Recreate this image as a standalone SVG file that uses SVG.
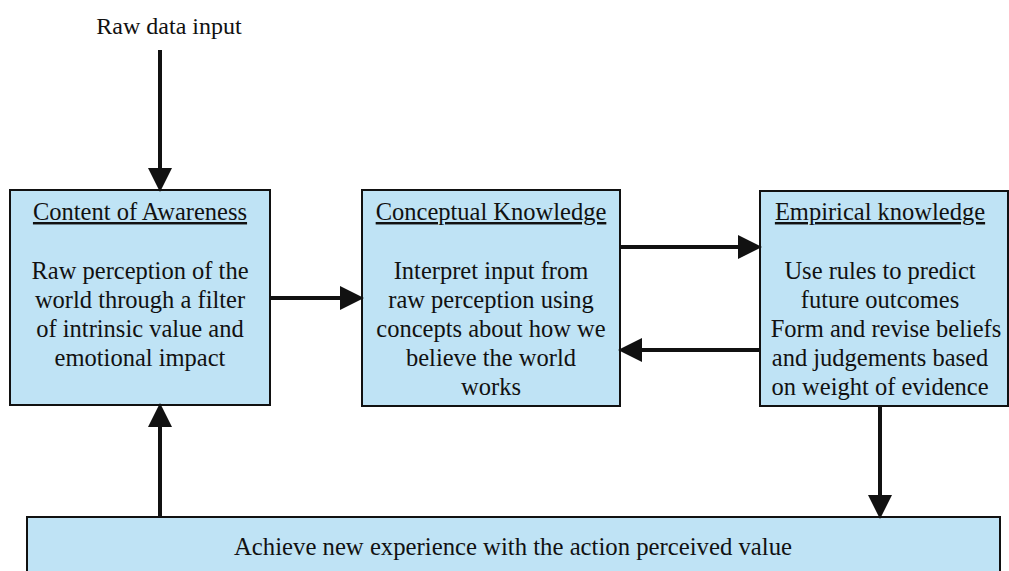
<svg xmlns="http://www.w3.org/2000/svg" width="1009" height="571" viewBox="0 0 1009 571">
<style>
.box{fill:#bfe3f5;stroke:#111;stroke-width:2}
text{font-family:"Liberation Serif","Times New Roman",serif;fill:#111;font-size:24.5px;text-anchor:middle}
.t{text-decoration:underline}
.c{stroke:#111;stroke-width:4;fill:none}
</style>
<defs>
<marker id="ah" markerWidth="6" markerHeight="6" refX="5" refY="3" orient="auto" markerUnits="strokeWidth">
<path d="M0,0 L6,3 L0,6 Z" fill="#111"/>
</marker>
</defs>
<rect width="1009" height="571" fill="#fff"/>
<g id="input-label"><text x="169" y="34" style="font-size:24px">Raw data input</text></g>
<g id="awareness">
<rect class="box" x="10" y="190" width="260" height="215"/>
<text class="t" x="140" y="220">Content of Awareness</text>
<text x="140" y="279">Raw perception of the</text>
<text x="140" y="308">world through a filter</text>
<text x="140" y="337">of intrinsic value and</text>
<text x="140" y="366">emotional impact</text>
</g>
<g id="conceptual">
<rect class="box" x="362" y="190" width="258" height="216"/>
<text class="t" x="491" y="220">Conceptual Knowledge</text>
<text x="491" y="279">Interpret input from</text>
<text x="491" y="308">raw perception using</text>
<text x="491" y="337">concepts about how we</text>
<text x="491" y="366">believe the world</text>
<text x="491" y="395">works</text>
</g>
<g id="empirical">
<rect class="box" x="760" y="191" width="248" height="215"/>
<text class="t" x="880" y="220">Empirical knowledge</text>
<text x="880" y="279">Use rules to predict</text>
<text x="880" y="308">future outcomes</text>
<text x="886" y="337">Form and revise beliefs</text>
<text x="880" y="366">and judgements based</text>
<text x="880" y="395">on weight of evidence</text>
</g>
<g id="experience">
<rect class="box" x="27" y="517" width="973" height="80"/>
<text x="513" y="555" textLength="558" lengthAdjust="spacingAndGlyphs" style="font-size:26px">Achieve new experience with the action perceived value</text>
</g>
<g id="connectors">
<line class="c" x1="160" y1="50" x2="160" y2="188" marker-end="url(#ah)"/>
<line class="c" x1="270" y1="298" x2="360" y2="298" marker-end="url(#ah)"/>
<line class="c" x1="620" y1="247" x2="758" y2="247" marker-end="url(#ah)"/>
<line class="c" x1="760" y1="350" x2="622" y2="350" marker-end="url(#ah)"/>
<line class="c" x1="880" y1="406" x2="880" y2="515" marker-end="url(#ah)"/>
<line class="c" x1="160" y1="517" x2="160" y2="407" marker-end="url(#ah)"/>
</g>
</svg>
